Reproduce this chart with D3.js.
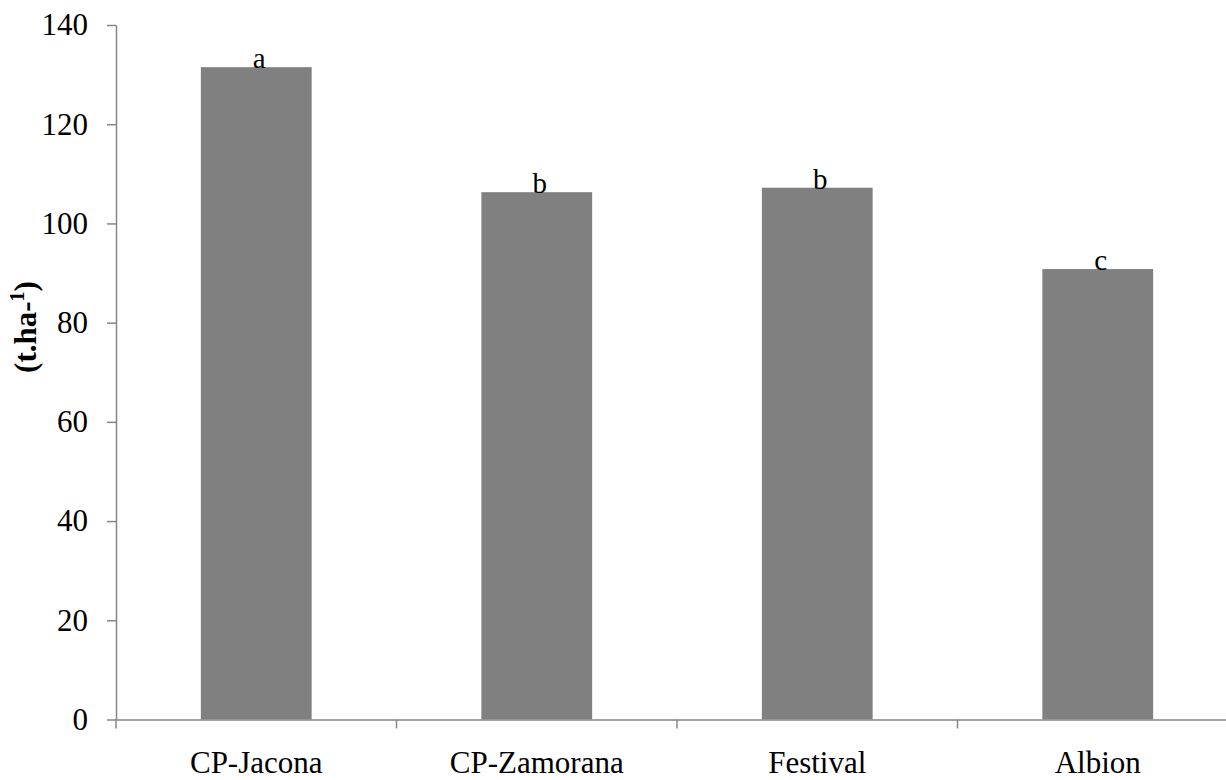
<!DOCTYPE html>
<html>
<head>
<meta charset="utf-8">
<script src="https://cdn.jsdelivr.net/npm/d3@7"></script>
<style>
    body { margin: 0; background: #fff; }
    svg { display: block; }
</style>
</head>
<body>
<div id="barChart"></div>
<script>
// Data
const cultivars = ["CP-Jacona", "CP-Zamorana", "Festival", "Albion"];
const yieldValues = [131.5, 106.3, 107.2, 90.8];
const groupLetters = ["a", "b", "b", "c"];
const yTicks = [0, 20, 40, 60, 80, 100, 120, 140];

const serif = "Liberation Serif, DejaVu Serif, serif";

function initBarChart() {
    const margin = { top: 25, right: 0, bottom: 60.5, left: 116 },
          width = 1122,   // axis runs past the right edge like in the original
          height = 780 - margin.top - margin.bottom;

    const svg = d3.select("#barChart")
        .append("svg")
        .attr("width", 1226)
        .attr("height", 780)
        .attr("font-family", serif)
        .style("overflow", "hidden")
        .append("g")
        .attr("transform", `translate(${margin.left},${margin.top})`);

    const data = cultivars.map((c, i) => ({ name: c, value: yieldValues[i], letter: groupLetters[i] }));

    const x = d3.scaleBand()
        .domain(cultivars)
        .range([0, width])
        .paddingInner(0.605)
        .paddingOuter(0.3025);

    const y = d3.scaleLinear()
        .domain([0, 140])
        .range([height, 0]);

    const axisColor = "#868686";

    // Bars
    svg.selectAll(".bar")
        .data(data)
        .enter().append("rect")
        .attr("class", "bar")
        .attr("x", d => x(d.name))
        .attr("y", d => y(d.value))
        .attr("width", x.bandwidth())
        .attr("height", d => y(0) - y(d.value))
        .attr("fill", "#808080");

    // Significance letters above bars
    svg.selectAll(".letter")
        .data(data)
        .enter().append("text")
        .attr("class", "letter")
        .attr("x", d => x(d.name) + x.bandwidth() / 2 + 3)
        .attr("y", d => y(d.value) + 1)
        .attr("font-family", serif)
        .attr("font-size", 29)
        .style("text-anchor", "middle")
        .text(d => d.letter);

    // Y axis
    const yAxis = svg.append("g")
        .call(d3.axisLeft(y).tickValues(yTicks).tickSize(9).tickPadding(19).tickSizeOuter(0));
    yAxis.attr("font-family", serif).attr("font-size", 31);
    yAxis.select(".domain").attr("stroke", axisColor).attr("stroke-width", 1.5);
    yAxis.selectAll(".tick line").attr("stroke", axisColor).attr("stroke-width", 1.5);
    yAxis.selectAll(".tick text").attr("fill", "#000");

    // X axis, ticks sit between categories
    const xAxis = svg.append("g")
        .attr("transform", `translate(0,${height})`)
        .call(d3.axisBottom(x).tickSize(0).tickPadding(31.5));
    xAxis.attr("font-family", serif).attr("font-size", 31);
    xAxis.select(".domain").attr("stroke", axisColor).attr("stroke-width", 1.5);
    xAxis.selectAll(".tick text").attr("fill", "#000");

    const step = x.step();
    const boundaries = d3.range(cultivars.length + 1).map(i => i * step);
    xAxis.selectAll(".sep")
        .data(boundaries)
        .enter().append("line")
        .attr("class", "sep")
        .attr("x1", d => d)
        .attr("x2", d => d)
        .attr("y1", 0)
        .attr("y2", 9)
        .attr("stroke", axisColor)
        .attr("stroke-width", 1.5);

    // Y axis label
    const yLabel = svg.append("text")
        .attr("transform", `translate(${36 - margin.left},${327 - margin.top}) rotate(-90)`)
        .attr("font-family", serif)
        .attr("font-size", 31)
        .attr("font-weight", "bold")
        .style("text-anchor", "middle");
    yLabel.append("tspan").text("(t.ha-");
    yLabel.append("tspan").attr("dy", -12).attr("font-size", 20).text("1");
    yLabel.append("tspan").attr("dy", 12).text(")");
}

initBarChart();
</script>
</body>
</html>
